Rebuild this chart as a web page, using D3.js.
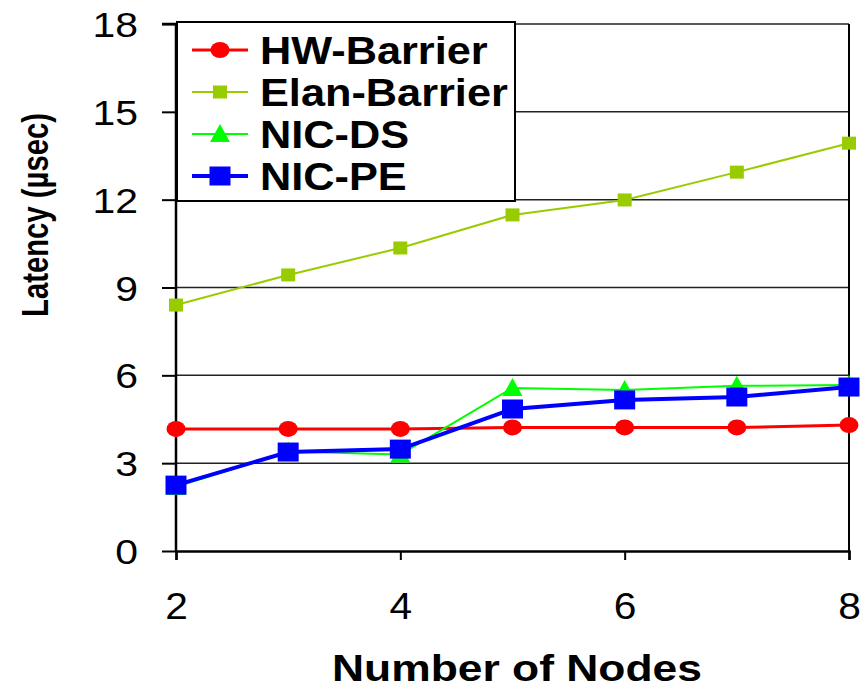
<!DOCTYPE html>
<html>
<head>
<meta charset="utf-8">
<script src="https://cdn.jsdelivr.net/npm/d3@7"></script>
<style>
  body { margin: 0; background: #fff; }
  text { font-family: "Liberation Sans", Arial, sans-serif; }
</style>
</head>
<body>
<div id="chart-container"></div>
<script>
// data
const nodes = [2, 3, 4, 5, 6, 7, 8];
const hwBarrier = [4.17, 4.17, 4.17, 4.22, 4.22, 4.22, 4.3];
const elanBarrier = [8.4, 9.43, 10.35, 11.48, 11.99, 12.94, 13.93];
const nicDS = [2.19, 3.4, 3.3, 5.57, 5.5, 5.64, 5.67];
const nicPE = [2.25, 3.38, 3.48, 4.85, 5.16, 5.26, 5.6];
const xTicks = [2, 4, 6, 8];
const yTicks = [0, 3, 6, 9, 12, 15, 18];

const series = [
  { name: "HW-Barrier", values: hwBarrier, color: "#ff0000", width: 3, symbol: "circle" },
  { name: "Elan-Barrier", values: elanBarrier, color: "#99cc00", width: 2, symbol: "smallSquare" },
  { name: "NIC-DS", values: nicDS, color: "#00ff00", width: 2, symbol: "triangle" },
  { name: "NIC-PE", values: nicPE, color: "#0000ff", width: 4, symbol: "square" }
];

const margin = { top: 24, right: 11, bottom: 140, left: 176 };
const width = 860 - margin.left - margin.right;
const height = 691 - margin.top - margin.bottom;

const x = d3.scaleLinear().domain([2, 8]).range([0, width]);
const y = d3.scaleLinear().domain([0, 18]).range([height, 0]);

const svg = d3.select("#chart-container")
  .append("svg")
    .attr("width", 860)
    .attr("height", 691)
  .append("g")
    .attr("transform", `translate(${margin.left},${margin.top})`);

// the original picture is a bit stretched sideways, so widen the glyphs
function stretch(sel, k) {
  sel.each(function () {
    const w = this.getComputedTextLength();
    d3.select(this).attr("textLength", w * k).attr("lengthAdjust", "spacingAndGlyphs");
  });
}

// gridlines
svg.append("g")
  .selectAll("line")
  .data(yTicks.filter(d => d > 0))
  .join("line")
    .attr("x1", 0).attr("x2", width)
    .attr("y1", d => y(d)).attr("y2", d => y(d))
    .attr("stroke", "#222")
    .attr("stroke-width", 1.5);

// right border
svg.append("line")
  .attr("x1", width).attr("x2", width)
  .attr("y1", 0).attr("y2", height)
  .attr("stroke", "#000").attr("stroke-width", 2);

// axes
const yAxis = svg.append("g")
  .call(d3.axisLeft(y).tickValues(yTicks).tickSize(14).tickPadding(24));
const xAxis = svg.append("g")
  .attr("transform", `translate(0,${height})`)
  .call(d3.axisBottom(x).tickValues(xTicks).tickFormat(d3.format("d")).tickSize(9).tickPadding(12));

[yAxis, xAxis].forEach(a => {
  a.select(".domain").attr("stroke-width", 2.5);
  a.selectAll(".tick line").attr("stroke-width", 2);
  a.selectAll("text").attr("fill", "#000");
});
yAxis.select(".domain").attr("d", `M-14,0H0V${height}`);
yAxis.selectAll("text").attr("font-size", 35).attr("dy", "0.36em").call(stretch, 1.17);
xAxis.selectAll("text").attr("font-size", 37).attr("y", 68).attr("dy", 0).call(stretch, 1.1);

// symbol drawing
function drawSymbol(g, s, cx, cy) {
  if (s.symbol === "circle") {
    g.append("ellipse").attr("cx", cx).attr("cy", cy).attr("rx", 9.5).attr("ry", 8).attr("fill", s.color);
  } else if (s.symbol === "smallSquare") {
    g.append("rect").attr("x", cx - 7).attr("y", cy - 6.5).attr("width", 14).attr("height", 13).attr("fill", s.color);
  } else if (s.symbol === "triangle") {
    g.append("path").attr("d", `M${cx},${cy - 10}L${cx + 10},${cy + 8}L${cx - 10},${cy + 8}Z`).attr("fill", s.color);
  } else {
    g.append("rect").attr("x", cx - 10.5).attr("y", cy - 9.5).attr("width", 21).attr("height", 19).attr("fill", s.color);
  }
}

const line = d3.line()
  .x((d, i) => x(nodes[i]))
  .y(d => y(d));

series.forEach(s => {
  svg.append("path")
    .datum(s.values)
    .attr("fill", "none")
    .attr("stroke", s.color)
    .attr("stroke-width", s.width)
    .attr("d", line);
  const g = svg.append("g");
  s.values.forEach((v, i) => drawSymbol(g, s, x(nodes[i]), y(v)));
});

// legend
const legend = svg.append("g").attr("transform", "translate(1,-2)");
legend.append("rect")
  .attr("width", 338).attr("height", 179)
  .attr("fill", "#fff").attr("stroke", "#000").attr("stroke-width", 2);
series.forEach((s, i) => {
  const ly = 28 + i * 42;
  legend.append("line")
    .attr("x1", 15).attr("x2", 71)
    .attr("y1", ly).attr("y2", ly)
    .attr("stroke", s.color).attr("stroke-width", s.width);
  drawSymbol(legend, s, 43, ly);
  legend.append("text")
    .attr("x", 83).attr("y", ly)
    .attr("dy", "0.36em")
    .attr("font-size", 39).attr("font-weight", "bold")
    .text(s.name)
    .call(stretch, 1.11);
});

// axis titles
svg.append("text")
  .attr("transform", `translate(${35 - margin.left},${215 - margin.top}) rotate(-90)`)
  .attr("text-anchor", "middle")
  .attr("dy", "0.36em")
  .attr("font-size", 36).attr("font-weight", "bold")
  .text("Latency (µsec)")
  .attr("textLength", 204).attr("lengthAdjust", "spacingAndGlyphs");

svg.append("text")
  .attr("x", 517 - margin.left).attr("y", 681 - margin.top)
  .attr("text-anchor", "middle")
  .attr("font-size", 36).attr("font-weight", "bold")
  .text("Number of Nodes")
  .attr("textLength", 370).attr("lengthAdjust", "spacingAndGlyphs");
</script>
</body>
</html>
